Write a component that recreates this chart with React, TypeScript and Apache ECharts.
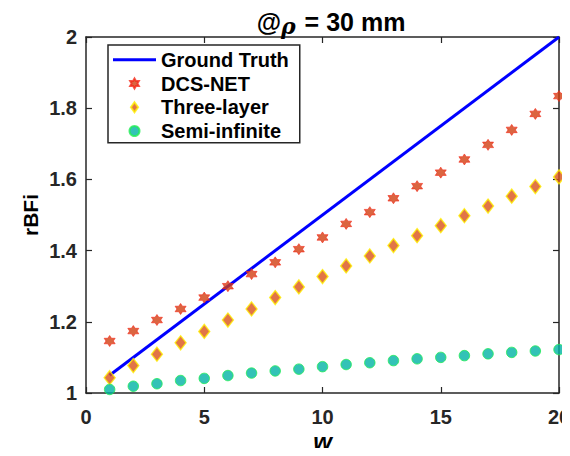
import React, { useEffect, useRef } from "react";
import * as echarts from "echarts";

const wValues = [1, 2, 3, 4, 5, 6, 7, 8, 9, 10, 11, 12, 13, 14, 15, 16, 17, 18, 19, 20];
const groundTruth = [
  [1, 1.05],
  [20, 2.0],
];
const dcsNet = [1.146, 1.174, 1.205, 1.236, 1.268, 1.3, 1.334, 1.367, 1.404, 1.437, 1.475, 1.508, 1.547, 1.581, 1.619, 1.656, 1.697, 1.739, 1.784, 1.834];
const threeLayer = [1.043, 1.077, 1.109, 1.141, 1.173, 1.205, 1.236, 1.268, 1.298, 1.327, 1.357, 1.385, 1.414, 1.442, 1.47, 1.498, 1.525, 1.553, 1.58, 1.607];
const semiInfinite = [1.01, 1.019, 1.026, 1.035, 1.041, 1.049, 1.056, 1.062, 1.067, 1.074, 1.08, 1.085, 1.091, 1.096, 1.1, 1.105, 1.11, 1.114, 1.118, 1.122];

const hexagram =
  "path://M0,-10L2.89,-5L8.66,-5L5.77,0L8.66,5L2.89,5L0,10L-2.89,5L-8.66,5L-5.77,0L-8.66,-5L-2.89,-5Z";
const diamond = "path://M0,-7L5,0L0,7L-5,0Z";
const lineIcon = "path://M0,0L43,0L43,3L0,3Z";

const FONT = "'Liberation Sans', Arial, sans-serif";
const AX = "#262626";

export default function App() {
  const ref = useRef<HTMLDivElement>(null);
  useEffect(() => {
    if (!ref.current) return;
    const chart = echarts.init(ref.current, undefined, { renderer: "svg" });
    const pair = (arr: number[]) => wValues.map((w, i) => [w, arr[i]]);
    const axisCommon = {
      axisLine: { show: true, onZero: false, lineStyle: { color: AX, width: 1.5 } },
      axisTick: { show: true, inside: true, length: 6, lineStyle: { color: AX, width: 1.2 } },
      splitLine: { show: false },
    };
    chart.setOption({
      animation: false,
      backgroundColor: "#ffffff",
      textStyle: { fontFamily: FONT },
      title: {
        text: "{at|@}{rho|ρ}{at| = 30 mm}",
        left: 326,
        textAlign: "center",
        top: 1,
        textStyle: {
          rich: {
            at: { fontFamily: FONT, fontWeight: "bold", fontSize: 25, color: "#000" },
            rho: { fontFamily: "'DejaVu Serif', serif", fontStyle: "italic", fontSize: 22, color: "#000", padding: [9, 2, 0, 0] },
          },
        },
      },
      legend: {
        left: 108,
        top: 45,
        orient: "vertical",
        backgroundColor: "#fff",
        borderColor: AX,
        borderWidth: 1.5,
        borderRadius: 0,
        padding: [3, 11, 0, 5],
        itemGap: 0,
        itemWidth: 43,
        itemHeight: 10,
        textStyle: { fontFamily: FONT, fontWeight: "bold", fontSize: 20, lineHeight: 23.7, color: "#000" },
        data: [
          { name: "Ground Truth", icon: lineIcon },
          { name: "DCS-NET", icon: hexagram },
          { name: "Three-layer", icon: diamond },
          { name: "Semi-infinite", icon: "circle" },
        ],
      },
      grid: { left: 86, top: 37, right: 11, bottom: 63, containLabel: false, outerBoundsMode: "none" },
      xAxis: [
        {
          type: "value",
          min: 0,
          max: 20,
          interval: 5,
          name: "w",
          nameLocation: "middle",
          nameGap: 36,
          nameMoveOverlap: false,
          nameTextStyle: { fontFamily: FONT, fontWeight: "bold", fontStyle: "italic", fontSize: 24, lineHeight: 24, color: "#000" },
          axisLabel: { fontFamily: FONT, fontWeight: "bold", fontSize: 20, color: AX, margin: 14 },
          ...axisCommon,
        },
        {
          type: "value",
          position: "top",
          min: 0,
          max: 20,
          interval: 5,
          axisLabel: { show: false },
          ...axisCommon,
        },
      ],
      yAxis: [
        {
          type: "value",
          min: 1,
          max: 2,
          interval: 0.2,
          name: "rBFi",
          nameLocation: "middle",
          nameGap: 45,
          nameMoveOverlap: false,
          nameTextStyle: { fontFamily: FONT, fontWeight: "bold", fontSize: 21, color: "#000" },
          axisLabel: {
            fontFamily: FONT,
            fontWeight: "bold",
            fontSize: 20,
            color: AX,
            margin: 9,
            formatter: (v: number) => String(Math.round(v * 10) / 10),
          },
          ...axisCommon,
        },
        {
          type: "value",
          position: "right",
          min: 1,
          max: 2,
          interval: 0.2,
          axisLabel: { show: false },
          ...axisCommon,
        },
      ],
      series: [
        {
          name: "Ground Truth",
          type: "line",
          data: groundTruth,
          showSymbol: false,
          symbol: "none",
          lineStyle: { color: "#0000ff", width: 3 },
          itemStyle: { color: "#0000ff" },
          clip: false,
          z: 3,
        },
        {
          name: "DCS-NET",
          type: "scatter",
          data: pair(dcsNet),
          symbol: hexagram,
          symbolSize: 11,
          itemStyle: { color: "#d23f12", borderColor: "#f52a1a", borderWidth: 0.8 },
          clip: false,
          z: 4,
        },
        {
          name: "Three-layer",
          type: "scatter",
          data: pair(threeLayer),
          symbol: diamond,
          symbolSize: [11, 14],
          itemStyle: { color: "#d95319", borderColor: "#ffee00", borderWidth: 1.4 },
          clip: false,
          z: 4,
        },
        {
          name: "Semi-infinite",
          type: "scatter",
          data: pair(semiInfinite),
          symbol: "circle",
          symbolSize: 10.5,
          itemStyle: { color: "#00b3a4", borderColor: "#22ee55", borderWidth: 1 },
          clip: false,
          z: 4,
        },
      ],
    });
    return () => chart.dispose();
  }, []);
  return <div ref={ref} style={{ width: 570, height: 456, margin: -8 }} />;
}
